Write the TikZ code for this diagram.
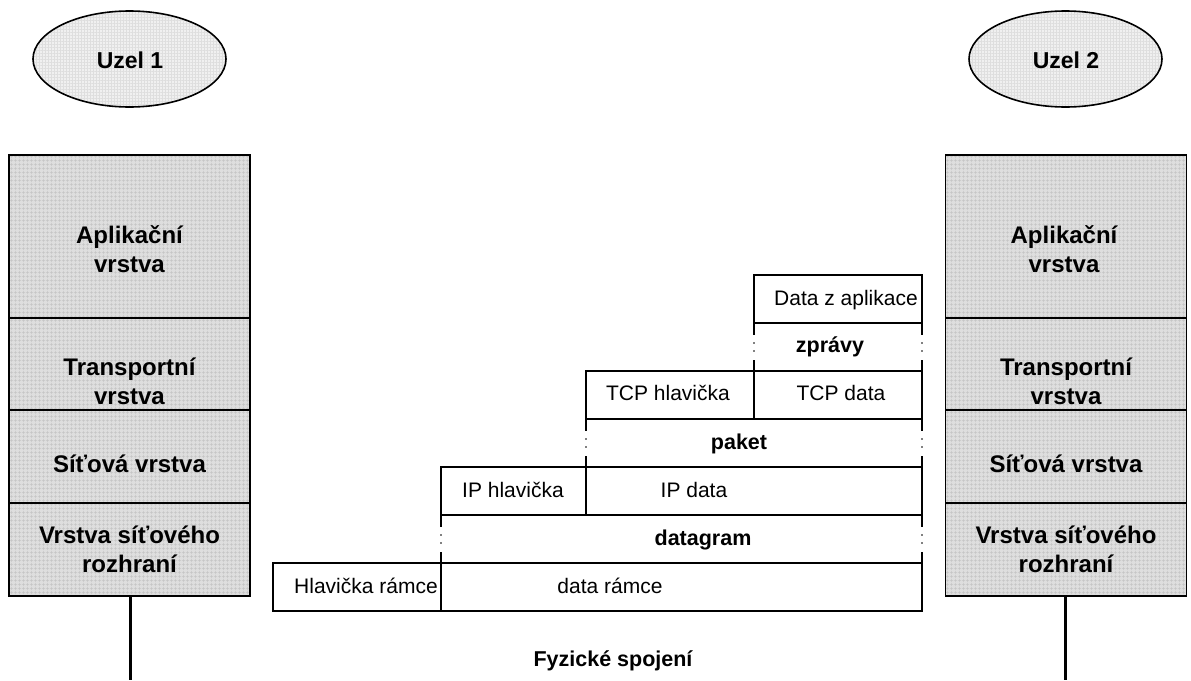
\documentclass[tikz,border=0pt]{standalone}
\usepackage{fontspec}
\setmainfont{Liberation Sans}
\usetikzlibrary{patterns,patterns.meta,shapes.geometric}
\definecolor{laygray}{RGB}{222,222,222}
\definecolor{laygrid}{RGB}{196,196,196}
\definecolor{ellgray}{RGB}{240,240,240}
\definecolor{ellgrid}{RGB}{222,222,222}
\newcommand\gapedge[3]{%
  \draw[midline] (#1,#2) -- (#1,#2+12);
  \fill (#1,#2+20) circle (0.8pt);
  \fill (#1,#2+28) circle (0.8pt);
  \draw[midline] (#1,#3-11) -- (#1,#3);
}
\begin{document}
\begin{tikzpicture}[x=1pt,y=-1pt,
  layer/.style={rectangle, draw=black, line width=1.6pt, inner sep=0pt,
     minimum width=241pt,
     preaction={fill=laygray},
     preaction={pattern={Hatch[angle=0,distance=4pt,line width=0.5pt]}, pattern color=laygrid}},
  host/.style={ellipse, draw=black, line width=1.6pt, inner sep=0pt,
     minimum width=193pt, minimum height=96pt,
     preaction={fill=ellgray},
     preaction={pattern={Hatch[angle=0,distance=3pt,line width=0.4pt]}, pattern color=ellgrid}},
  laytxt/.style={font=\fontsize{24}{29}\selectfont\bfseries, align=center, anchor=base, inner sep=0pt},
  hosttxt/.style={font=\fontsize{23}{27}\selectfont\bfseries, anchor=base, inner sep=0pt},
  celltxt/.style={font=\fontsize{21}{25}\selectfont, anchor=base, inner sep=0pt},
  boldtxt/.style={font=\fontsize{21.5}{25}\selectfont\bfseries, anchor=base, inner sep=0pt},
  midline/.style={line width=1.3pt},
  link/.style={line width=3pt}
]
\useasboundingbox (0,0) rectangle (1191,680);

% hosts
\node[host] (u1) at (129.5,59) {};
\node[hosttxt] (u1t) at (130,68) {Uzel 1};
\node[host] (u2) at (1065.5,59) {};
\node[hosttxt] (u2t) at (1066,68) {Uzel 2};

% left stack
\node[layer, minimum height=163pt] (a1) at (129.5,236.5) {};
\node[layer, minimum height=92pt] (a2) at (129.5,364) {};
\node[layer, minimum height=93pt] (a3) at (129.5,456.5) {};
\node[layer, minimum height=93pt] (a4) at (129.5,549.5) {};
\node[laytxt] (a1t) at (129.5,272) {Aplikační\\vrstva};
\node[laytxt] (a2t) at (129.5,404) {Transportní\\vrstva};
\node[laytxt] (a3t) at (129.5,472) {Síťová vrstva};
\node[laytxt] (a4t) at (129.5,572) {Vrstva síťového\\rozhraní};

% right stack
\node[layer, minimum height=163pt] (b1) at (1066,236.5) {};
\node[layer, minimum height=92pt] (b2) at (1066,364) {};
\node[layer, minimum height=93pt] (b3) at (1066,456.5) {};
\node[layer, minimum height=93pt] (b4) at (1066,549.5) {};
\node[laytxt] (b1t) at (1064,272) {Aplikační\\vrstva};
\node[laytxt] (b2t) at (1066,404) {Transportní\\vrstva};
\node[laytxt] (b3t) at (1066,472) {Síťová vrstva};
\node[laytxt] (b4t) at (1066,572) {Vrstva síťového\\rozhraní};

% physical links
\coordinate (e1) at (130,680);
\coordinate (e2) at (1065,680);
\draw[link] (a4.south -| e1) -- (e1);
\draw[link] (b4.south -| e2) -- (e2);

% encapsulation cells
\draw[midline] (754,275) rectangle (922,323);
\draw[midline] (586,371) rectangle (922,419);
\draw[midline] (754,371) -- (754,419);
\draw[midline] (441,467) rectangle (922,515);
\draw[midline] (586,467) -- (586,515);
\draw[midline] (273,563) rectangle (922,611);
\draw[midline] (441,563) -- (441,611);

\gapedge{754}{323}{371}
\gapedge{922}{323}{371}
\gapedge{586}{419}{467}
\gapedge{922}{419}{467}
\gapedge{441}{515}{563}
\gapedge{922}{515}{563}

\node[celltxt] (c1) at (846,305) {Data z aplikace};
\node[boldtxt] (c2) at (830,352) {zprávy};
\node[celltxt] (c3) at (668,400) {TCP hlavička};
\node[celltxt] (c4) at (841,400) {TCP data};
\node[boldtxt] (c5) at (739,449) {paket};
\node[celltxt] (c6) at (513,497) {IP hlavička};
\node[celltxt] (c7) at (694,497) {IP data};
\node[boldtxt] (c8) at (703,545) {datagram};
\node[celltxt] (c9) at (366,593) {Hlavička rámce};
\node[celltxt] (c10) at (610,593) {data rámce};
\node[boldtxt] (f) at (613,666) {Fyzické spojení};
\end{tikzpicture}
\end{document}
